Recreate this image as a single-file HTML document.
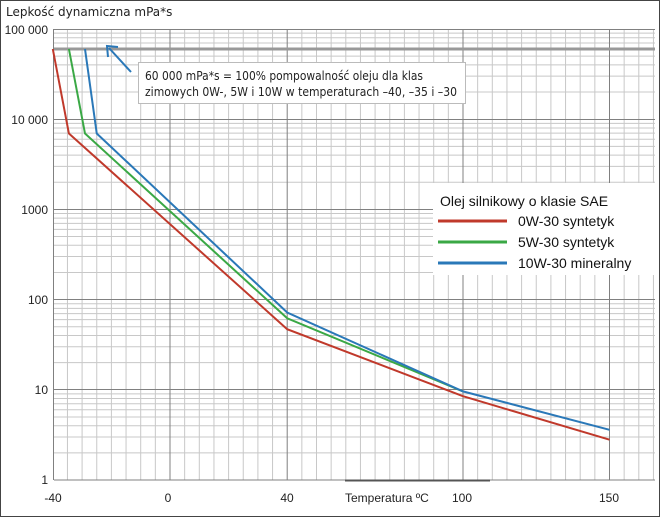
<!DOCTYPE html><html><head><meta charset="utf-8"><style>
html,body{margin:0;padding:0;background:#fff}
svg{display:block;font-family:"Liberation Sans",sans-serif}
</style></head><body>
<svg width="660" height="517" viewBox="0 0 660 517" xmlns="http://www.w3.org/2000/svg">
<rect x="0.5" y="0.5" width="659" height="516" fill="#fff" stroke="#444"/>
<path fill="none" stroke="#c8c8c8" stroke-width="1" d="
M54 452.85H655M54 436.96H655M54 425.69H655M54 416.95H655M54 409.81H655M54 403.77H655M54 398.54H655M54 393.93H655
M54 362.65H655M54 346.76H655M54 335.49H655M54 326.75H655M54 319.61H655M54 313.57H655M54 308.34H655M54 303.73H655
M54 272.45H655M54 256.56H655M54 245.29H655M54 236.55H655M54 229.41H655M54 223.37H655M54 218.14H655M54 213.53H655
M54 182.25H655M54 166.36H655M54 155.09H655M54 146.35H655M54 139.21H655M54 133.17H655M54 127.94H655M54 123.33H655
M54 92.05H655M54 76.16H655M54 64.89H655M54 56.15H655M54 49.01H655M54 42.97H655M54 37.74H655M54 33.13H655
M67.45 29V480M82.1 29V480M96.75 29V480M111.4 29V480M126.05 29V480M140.7 29V480M155.35 29V480
M184.65 29V480M199.3 29V480M213.95 29V480M228.6 29V480M243.25 29V480M257.9 29V480M272.55 29V480
M301.85 29V480M316.5 29V480M331.15 29V480M345.8 29V480M360.45 29V480M375.1 29V480M389.75 29V480M404.4 29V480M419.05 29V480M433.7 29V480M448.35 29V480
M477.65 29V480M492.3 29V480M506.95 29V480M521.6 29V480M536.25 29V480M550.9 29V480M565.55 29V480M580.2 29V480M594.85 29V480
M624.15 29V480M638.8 29V480M653.45 29V480"/>
<path fill="none" stroke="#808080" stroke-width="1" d="M54 29.5H655M54 119.5H655M54 209.5H655M54 299.5H655M54 389.5H655M54 480H655
M53.5 29V480M170 29V480M287.2 29V480M463 29V480M609.5 29V480"/>
<line x1="54" x2="655" y1="49" y2="49" stroke="#999" stroke-width="3"/>
<line x1="345" x2="490" y1="480.5" y2="480.5" stroke="#555" stroke-width="2"/>
<polyline points="52.8,49 68.9,133.5 287.2,329.2 463,396.2 609.5,439.7" fill="none" stroke="#c0392b" stroke-width="2"/>
<polyline points="68.9,49 85,133.5 287.2,318.3 463,391.4" fill="none" stroke="#3aa845" stroke-width="2"/>
<polyline points="85,49 96.75,133.5 287.2,312.5 463,391.4 609.5,429.8" fill="none" stroke="#2a78b8" stroke-width="2"/>
<line x1="131" y1="72" x2="109" y2="48" stroke="#2a78b8" stroke-width="2"/>
<polyline points="108,57 107,46 118,47" fill="none" stroke="#2a78b8" stroke-width="2"/>
<rect x="138.5" y="62.5" width="327" height="41" fill="#fff" stroke="#bbb"/>
<text x="145" y="80" font-size="12.5" fill="#222" font-family="DejaVu Sans,sans-serif" textLength="278" lengthAdjust="spacingAndGlyphs">60 000 mPa*s = 100% pompowalność oleju dla klas</text>
<text x="145" y="96" font-size="12.5" fill="#222" font-family="DejaVu Sans,sans-serif" textLength="312" lengthAdjust="spacingAndGlyphs">zimowych 0W-, 5W i 10W w temperaturach –40, –35 i –30</text>
<rect x="433" y="183" width="222" height="92" fill="#fff"/>
<text x="440" y="206" font-size="14" fill="#111">Olej silnikowy o klasie SAE</text>
<line x1="438" x2="507" y1="221" y2="221" stroke="#c0392b" stroke-width="3"/>
<text x="518" y="226" font-size="14" fill="#111">0W-30 syntetyk</text>
<line x1="438" x2="507" y1="242" y2="242" stroke="#3aa845" stroke-width="3"/>
<text x="518" y="247" font-size="14" fill="#111">5W-30 syntetyk</text>
<line x1="438" x2="507" y1="263" y2="263" stroke="#2a78b8" stroke-width="3"/>
<text x="518" y="268" font-size="14" fill="#111">10W-30 mineralny</text>
<text x="6" y="16" font-size="12" fill="#222" font-family="DejaVu Sans,sans-serif">Lepkość dynamiczna mPa*s</text>
<g font-size="12" fill="#222" text-anchor="end">
<text x="48" y="34">100 000</text>
<text x="48" y="124">10 000</text>
<text x="48" y="214">1000</text>
<text x="48" y="304">100</text>
<text x="48" y="394">10</text>
<text x="48" y="484">1</text>
</g>
<g font-size="12" fill="#222" text-anchor="middle">
<text x="53" y="502">-40</text>
<text x="168" y="502">0</text>
<text x="287" y="502">40</text>
<text x="462" y="502">100</text>
<text x="609" y="502">150</text>
</g>
<text x="345" y="502" font-size="12" fill="#222">Temperatura ºC</text>
</svg>
</body></html>
